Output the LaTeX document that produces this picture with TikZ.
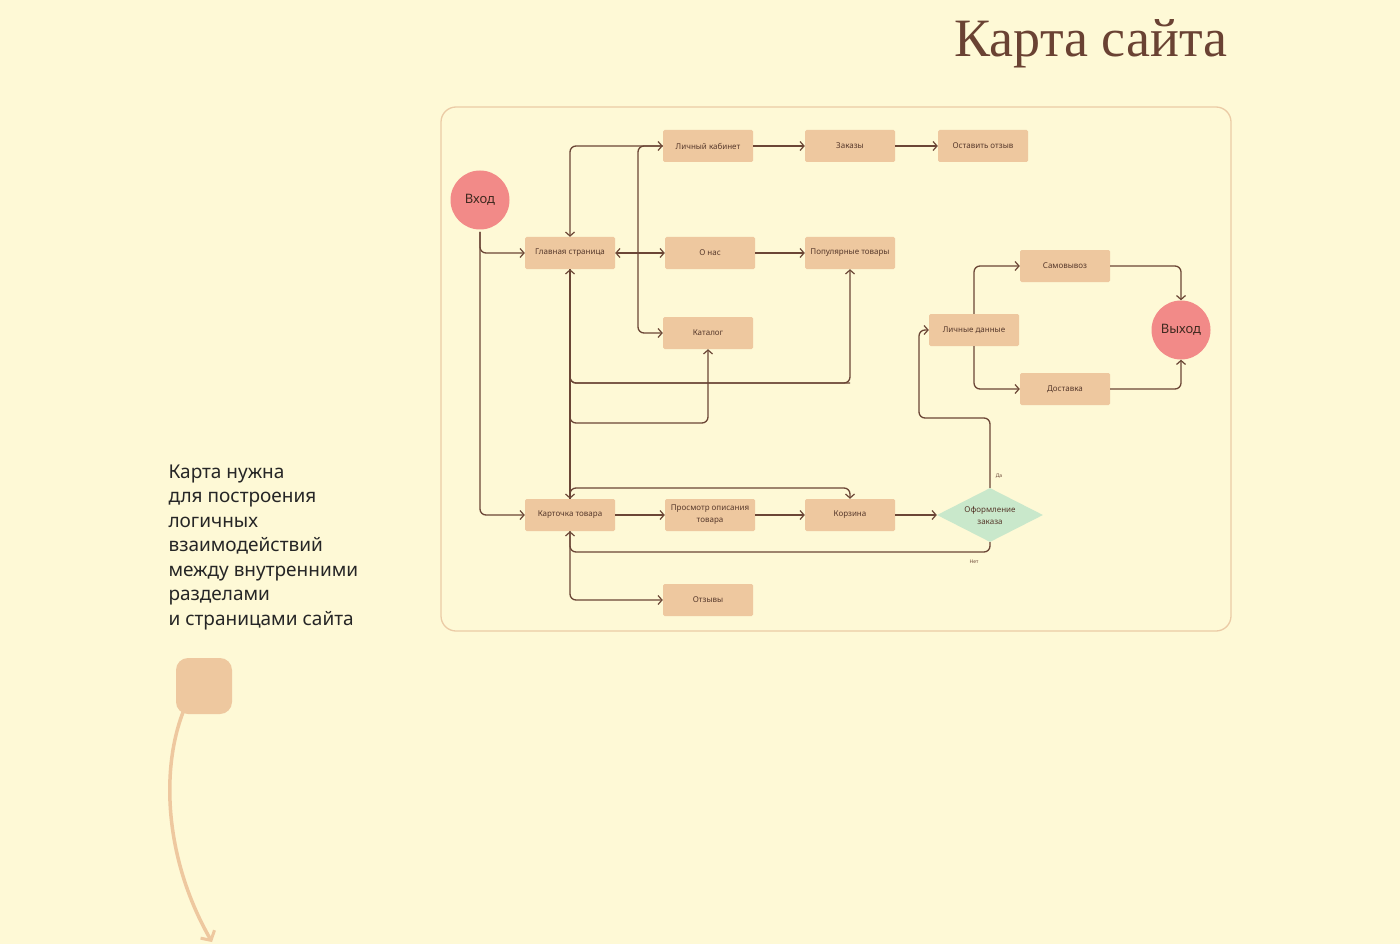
\documentclass[tikz,border=0pt]{standalone}
\usepackage{fontspec}
\setmainfont{Noto Sans}
\newfontfamily\titlefont{Liberation Serif}
\usetikzlibrary{arrows.meta,shapes.geometric}
\definecolor{bg}{HTML}{FEF9D6}
\definecolor{boxc}{HTML}{EEC89F}
\definecolor{ln}{HTML}{6B4636}
\definecolor{redc}{HTML}{F28A88}
\definecolor{grn}{HTML}{C9E8CB}
\definecolor{frame}{HTML}{EBCBA6}
\definecolor{ttl}{HTML}{6A4233}
\begin{document}
\begin{tikzpicture}[x=1pt,y=-1pt,
  box/.style={fill=boxc,rounded corners=1.5pt,minimum width=90pt,minimum height=32pt,inner sep=1pt,align=center,font=\fontsize{8}{10}\selectfont,text=ln!80!black},
  circ/.style={circle,fill=redc,minimum size=59pt,inner sep=0pt,font=\fontsize{13}{15}\selectfont,text=ln!60!black},
  conn/.style={draw=ln,line width=1.3pt,rounded corners=6pt,-{Straight Barb[length=4pt,width=9pt,line width=1.2pt]}},
  lab/.style={font=\fontsize{5}{6}\selectfont,text=ln}]
\fill[bg] (0,0) rectangle (1400,944);
\useasboundingbox (0,0) rectangle (1400,944);
\node[anchor=base east,font=\titlefont\fontsize{54}{60}\selectfont,text=ttl] (title) at (1231,57) {Карта сайта};
\draw[frame,line width=1.3pt,rounded corners=15pt] (441,107) rectangle (1231,631);
% nodes
\node[circ] (in) at (480,200) {Вход};
\node[circ] (out) at (1181,330) {Выход};
\node[box] (lk) at (708,146) {Личный кабинет};
\node[box] (zak) at (850,146) {Заказы};
\node[box] (otz) at (983,146) {Оставить отзыв};
\node[box] (gl) at (570,253) {Главная страница};
\node[box] (on) at (710,253) {О нас};
\node[box] (pop) at (850,253) {Популярные товары};
\node[box] (kat) at (708,333) {Каталог};
\node[box] (sam) at (1065,266) {Самовывоз};
\node[box] (ld) at (974,330) {Личные данные};
\node[box] (dos) at (1065,389) {Доставка};
\node[box] (kt) at (570,515) {Карточка товара};
\node[box,font=\fontsize{8}{12}\selectfont] (pr) at (710,515) {Просмотр описания\\товара};
\node[box] (kor) at (850,515) {Корзина};
\node[box] (otv) at (708,600) {Отзывы};
\node[diamond,fill=grn,minimum width=106pt,minimum height=54pt,inner sep=0pt,aspect=2,align=center,font=\fontsize{8}{12}\selectfont,text=ln!80!black] (of) at (990,515) {Оформление\\заказа};
% coordinates
\coordinate (j) at (638,253);
\coordinate (inb) at (480,232);
% connectors
\draw[conn] (inb) |- (gl.west);
\draw[conn] (inb) |- (kt.west);
\draw[conn] (j) -- (gl.east);
\draw[conn] (j) -- (on.west);
\draw[conn] (j) |- (lk.west);
\draw[conn] (j) |- (kat.west);
\draw[conn] (lk.west) -| (gl.north);
\draw[conn] (lk.east) -- (zak.west);
\draw[conn] (zak.east) -- (otz.west);
\draw[conn] (on.east) -- (pop.west);
\draw[conn] (kt.north) -- (gl.south);
\draw[conn] (gl.south) -- (kt.north);
\coordinate (v1) at (570,383);
\coordinate (v2) at (570,423);
\coordinate (v3) at (570,492);
\draw[conn,-] (v1) ++(0,-8) |- (850,383);
\draw[conn] (570,383) -- ++(0,0) (570,375) |- ++(280,8) -- (pop.south);
\draw[conn] (570,415) |- ++(138,8) -- (kat.south);
\draw[conn] (570,497) |- ++(280,-9) -- (kor.north);
\draw[conn] (kt.east) -- (pr.west);
\draw[conn] (pr.east) -- (kor.west);
\draw[conn] (kor.east) -- (of.west);
\draw[conn] (of.north) |- (919,418) |- (ld.west);
\draw[conn] (of.south) |- (570,552) -- (kt.south);
\draw[conn] (kt.south) |- (otv.west);
\draw[conn] (ld.north) |- (sam.west);
\draw[conn] (ld.south) |- (dos.west);
\draw[conn] (sam.east) -| (out.north);
\draw[conn] (dos.east) -| (out.south);
\node[lab] (da) at (999,476) {Да};
\node[lab] (net) at (974,562) {Нет};
% left text
\node[anchor=north west,align=left,font=\fontsize{19}{24.5}\selectfont,text=black!85] (txt) at (165,461) {Карта нужна\\для построения\\логичных\\взаимодействий\\между внутренними\\разделами\\и страницами сайта};
\node[fill=boxc,rounded corners=12pt,minimum size=56pt] (sq) at (204,686) {};
\coordinate (ae) at (212,942);
\draw[boxc,line width=3.5pt,line cap=round,-{Straight Barb[length=7pt,width=16pt,line width=3pt]}] (sq.south west) ++(8,-4) .. controls (160,770) and (165,860) .. (ae);
\end{tikzpicture}
\end{document}
